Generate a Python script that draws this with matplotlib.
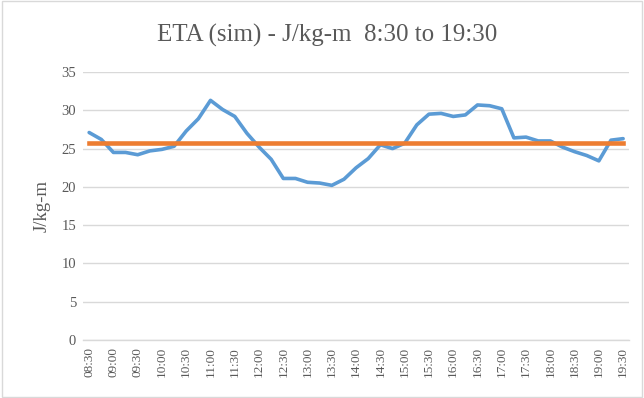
"""
    ETA (sim) chart, energy per kg-m through the day, with the day average.
"""

import matplotlib.pyplot as plt
import pandas as pd
from matplotlib.patches import Rectangle

# 15 minute samples from 08:30 to 19:30
times = pd.date_range('2000-01-01 08:30', '2000-01-01 19:30', freq='15min').strftime('%H:%M').tolist()
eta = [27.1, 26.2, 24.5, 24.5, 24.2, 24.7, 24.9, 25.3, 27.3, 28.9,
       31.3, 30.1, 29.2, 27.0, 25.2, 23.6, 21.1, 21.1, 20.6, 20.5,
       20.2, 21.0, 22.5, 23.7, 25.5, 25.0, 25.7, 28.1, 29.5, 29.6,
       29.2, 29.4, 30.7, 30.6, 30.2, 26.4, 26.5, 26.0, 26.0, 25.2,
       24.6, 24.1, 23.4, 26.1, 26.3]
eta_avg = 25.7

tick_labels = times[::2]

text_col = '#595959'
grid_col = '#d9d9d9'
plt.rcParams['font.family'] = ['Liberation Serif', 'DejaVu Serif']

fig = plt.figure(figsize=(6.44, 3.98), dpi=100)
ax = fig.add_axes([0.129, 0.1457, 0.848, 0.6733])

x = list(range(len(eta)))
ax.plot(x, eta, color='#5b9bd5', linewidth=2.6, solid_capstyle='round', zorder=3)
ax.plot(x, [eta_avg] * len(eta), color='#ed7d31', linewidth=3.3, zorder=4)

ax.set_xlim(-0.5, len(eta) - 0.5)
ax.set_ylim(0, 35)
ax.set_yticks(range(0, 36, 5))
ax.set_xticks(x[::2])
ax.set_xticklabels(tick_labels, rotation=90, fontsize=9.5, color=text_col)
ax.tick_params(axis='y', labelsize=10.5, labelcolor=text_col, length=0, pad=5)
ax.tick_params(axis='x', length=0, pad=5)

ax.grid(axis='y', color=grid_col, linewidth=1.0)
ax.set_axisbelow(True)
for s in ['top', 'right', 'left']:
    ax.spines[s].set_visible(False)
ax.spines['bottom'].set_color(grid_col)
ax.spines['bottom'].set_linewidth(1.0)

ax.set_ylabel('J/kg-m', fontsize=13.5, color=text_col, labelpad=8)
fig.text(0.508, 0.91, 'ETA (sim) - J/kg-m  8:30 to 19:30', ha='center', va='center',
         fontsize=18, color=text_col)

fig.patches.append(Rectangle((0.003, 0.003), 0.994, 0.994, transform=fig.transFigure,
                             fill=False, edgecolor=grid_col, linewidth=1.0))

fig.savefig('out.png', dpi=100)
